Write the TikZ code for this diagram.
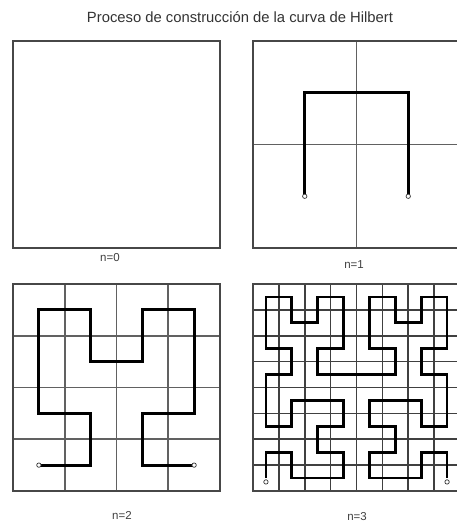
\documentclass[tikz,border=0pt]{standalone}
\usepackage{fontspec}
\setmainfont{Liberation Sans}
\begin{document}
\begin{tikzpicture}[x=1pt,y=1pt,
  frame/.style={draw=black!72,line width=1.8pt},
  gridline/.style={draw=black!62,line width=1.8pt},
  finegrid/.style={draw=black!75,line width=1.6pt},
  hcurve/.style={draw=black,line width=2.8pt,line join=miter},
  endpt/.style={draw=black!80,fill=white,line width=0.7pt},
  caption/.style={font=\fontsize{11.5}{12}\selectfont,text=black!75,inner sep=0pt},
  title/.style={font=\fontsize{14.8}{16}\selectfont,text=black!80,inner sep=0pt}]
\useasboundingbox (0,0) rectangle (457,530);
\fill[white] (0,0) rectangle (457,530);
\node[title] (ttl) at (240,513) {Proceso de construcción de la curva de Hilbert};
% n=0
\begin{scope}[shift={(13,282)}]
  \draw[frame] (0,0) rectangle (207,207);
\end{scope}
\node[caption] (c0) at (110,272) {n=0};
% n=1
\begin{scope}[shift={(253,282)},x=103.5pt,y=103.5pt]
  \draw[gridline] (1,0) -- (1,2) (0,1) -- (2,1);
  \draw[frame] (0,0) rectangle (2,2);
  \begin{scope}[shift={(0.5,0.5)}]
    \draw[hcurve] (0,0) -- (0,1) -- (1,1) -- (1,0);
    \draw[endpt] (0,0) circle[radius=2.2pt] (1,0) circle[radius=2.2pt];
  \end{scope}
\end{scope}
\node[caption] (c1) at (354,265) {n=1};
% n=2
\begin{scope}[shift={(13,39)},x=51.75pt,y=51.75pt]
  \foreach \k in {1,2,3} {\draw[gridline] (\k,0) -- (\k,4) (0,\k) -- (4,\k);}
  \draw[frame] (0,0) rectangle (4,4);
  \begin{scope}[shift={(0.5,0.5)}]
    \draw[hcurve] (0,0) -- (1,0) -- (1,1) -- (0,1) -- (0,2) -- (0,3) -- (1,3) -- (1,2) -- (2,2) -- (2,3) -- (3,3) -- (3,2) -- (3,1) -- (2,1) -- (2,0) -- (3,0);
    \draw[endpt] (0,0) circle[radius=2.2pt] (3,0) circle[radius=2.2pt];
  \end{scope}
\end{scope}
\node[caption] (c2) at (122,15) {n=2};
% n=3
\begin{scope}[shift={(253,39)},x=25.875pt,y=25.875pt]
  \foreach \k in {1,...,7} {\draw[finegrid] (\k,0) -- (\k,8) (0,\k) -- (8,\k);}
  \draw[frame] (0,0) rectangle (8,8);
  \begin{scope}[shift={(0.5,0.5)}]
    \draw[hcurve] (0,0) -- (0,1) -- (1,1) -- (1,0) -- (2,0) -- (3,0) -- (3,1) -- (2,1) -- (2,2) -- (3,2) -- (3,3) -- (2,3) -- (1,3) -- (1,2) -- (0,2) -- (0,3)
      -- (0,4) -- (1,4) -- (1,5) -- (0,5) -- (0,6) -- (0,7) -- (1,7) -- (1,6) -- (2,6) -- (2,7) -- (3,7) -- (3,6) -- (3,5) -- (2,5) -- (2,4) -- (3,4)
      -- (4,4) -- (5,4) -- (5,5) -- (4,5) -- (4,6) -- (4,7) -- (5,7) -- (5,6) -- (6,6) -- (6,7) -- (7,7) -- (7,6) -- (7,5) -- (6,5) -- (6,4) -- (7,4)
      -- (7,3) -- (7,2) -- (6,2) -- (6,3) -- (5,3) -- (4,3) -- (4,2) -- (5,2) -- (5,1) -- (4,1) -- (4,0) -- (5,0) -- (6,0) -- (6,1) -- (7,1) -- (7,0);
    \draw[endpt] (0,-0.15) circle[radius=2.2pt] (7,-0.15) circle[radius=2.2pt];
  \end{scope}
\end{scope}
\node[caption] (c3) at (357,13) {n=3};
\end{tikzpicture}
\end{document}
